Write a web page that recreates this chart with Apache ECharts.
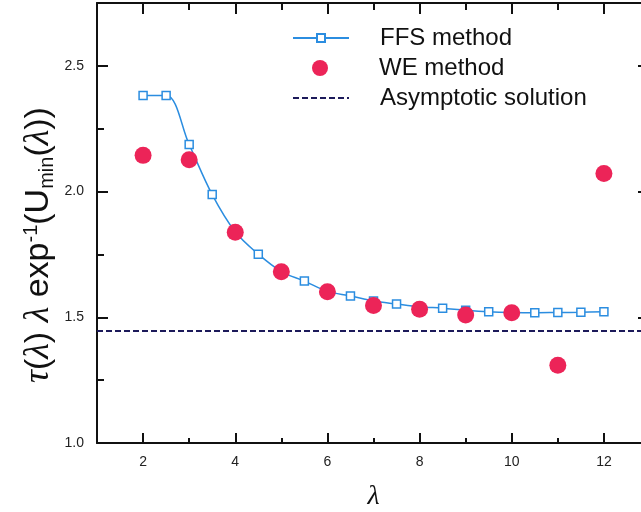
<!DOCTYPE html>
<html>
<head>
<meta charset="utf-8">
<script src="https://cdn.jsdelivr.net/npm/echarts@6/dist/echarts.min.js"></script>
<style>html,body{margin:0;padding:0;background:#fff}#c{width:641px;height:512px}</style>
</head>
<body>
<div id="c"></div>
<script>
// ---- data ----
var ffsX = [2, 2.5, 3, 3.5, 4, 4.5, 5, 5.5, 6, 6.5, 7, 7.5, 8, 8.5, 9, 9.5, 10, 10.5, 11, 11.5, 12];
var ffsY = [2.382, 2.382, 2.187, 1.988, 1.840, 1.751, 1.682, 1.644, 1.603, 1.585, 1.565, 1.553, 1.542, 1.536, 1.528, 1.522, 1.519, 1.518, 1.519, 1.520, 1.522];
var weX = [2, 3, 4, 5, 6, 7, 8, 9, 10, 11, 12];
var weY = [2.144, 2.127, 1.838, 1.681, 1.602, 1.547, 1.532, 1.509, 1.518, 1.309, 2.072];
var asymX = [1, 13];
var asymY = [1.445, 1.445];
var xMajor = [2, 4, 6, 8, 10, 12];
var xMinor = [3, 5, 7, 9, 11];
var yMajor = [1.0, 1.5, 2.0, 2.5];
var yMinor = [1.25, 1.75, 2.25];
var seriesNames = ['FFS method', 'WE method', 'Asymptotic solution'];
var yTitle = '{it|τ}{n|(}{it|λ}{n|) }{it|λ}{n| exp}{sup|-1}{n|(U}{sub|min}{n|(}{it|λ}{n|))}';
var xTitle = 'λ';

function pairs(xs, ys) { return xs.map(function (x, i) { return [x, ys[i]]; }); }

var XR = { min: 1, max: 13, interval: 1 };
var YR = { min: 1, max: 2.75, interval: 0.25 };
var lineStyle = { color: '#111', width: 2 };

function xAx(pos, vals, len, main) {
  return Object.assign({
    type: 'value', position: pos, gridIndex: 0,
    axisLine: { show: main, onZero: false, lineStyle: lineStyle },
    axisTick: { show: true, inside: true, length: len, customValues: vals, lineStyle: { color: '#111', width: 2 } },
    axisLabel: { show: false },
    splitLine: { show: false }
  }, XR);
}
function yAx(pos, vals, len, main) {
  return Object.assign({
    type: 'value', position: pos, gridIndex: 0,
    axisLine: { show: main, onZero: false, lineStyle: lineStyle },
    axisTick: { show: true, inside: true, length: len, customValues: vals, lineStyle: { color: '#111', width: 2 } },
    axisLabel: { show: false },
    splitLine: { show: false }
  }, YR);
}

var xMain = xAx('bottom', xMajor, 10, true);
xMain.axisLabel = { show: true, customValues: xMajor, fontSize: 14, color: '#222', margin: 12, fontFamily: 'Liberation Sans' };
xMain.name = xTitle;
xMain.nameLocation = 'middle';
xMain.nameGap = 40;
xMain.nameTextStyle = { fontFamily: 'Liberation Serif', fontStyle: 'italic', fontSize: 28, color: '#111' };

var yMain = yAx('left', yMajor, 11, true);
yMain.axisLabel = { show: true, customValues: yMajor, fontSize: 14, color: '#222', margin: 13, fontFamily: 'Liberation Sans',
  formatter: function (v) { return v.toFixed(1); } };

function legendAt(name, left, top, itemH) {
  return {
    orient: 'vertical', left: left, top: top, padding: 0,
    itemWidth: 56, itemHeight: itemH, itemGap: 0,
    data: [name],
    textStyle: { fontFamily: 'Liberation Sans', fontSize: 24, color: '#111', lineHeight: 26, padding: [0, 0, 0, 26] }
  };
}

var chart = echarts.init(document.getElementById('c'), null, { renderer: 'canvas' });
chart.setOption({
  backgroundColor: '#ffffff',
  animation: false,
  grid: { left: 97, top: 3, width: 553, height: 440, containLabel: false, outerBoundsMode: 'none' },
  legend: [legendAt(seriesNames[0], 292, 25, 10), legendAt(seriesNames[1], 312, 55, 16), legendAt(seriesNames[2], 292, 85, 10)],
  graphic: [{
    type: 'text', x: 39, y: 245, rotation: Math.PI / 2, silent: true,
    style: {
      text: yTitle, align: 'center', verticalAlign: 'middle', fill: '#111',
      rich: {
        n: { fontFamily: 'Liberation Sans', fontSize: 34, fill: '#111' },
        it: { fontFamily: 'Liberation Serif', fontStyle: 'italic', fontSize: 36, fill: '#111' },
        sup: { fontFamily: 'Liberation Sans', fontSize: 20, fill: '#111', verticalAlign: 'top' },
        sub: { fontFamily: 'Liberation Sans', fontSize: 20, fill: '#111', verticalAlign: 'bottom' }
      }
    }
  }],
  xAxis: [xMain, xAx('bottom', xMinor, 5, false), xAx('top', xMajor, 11, true), xAx('top', xMinor, 7, false)],
  yAxis: [yMain, yAx('left', yMinor, 7, false), yAx('right', yMajor, 12, true), yAx('right', yMinor, 7, false)],
  series: [
    {
      name: seriesNames[0], type: 'line', xAxisIndex: 0, yAxisIndex: 0,
      data: pairs(ffsX, ffsY), smooth: 0.35,
      symbol: 'rect', symbolSize: 8,
      lineStyle: { color: '#2b8de0', width: 1.5 },
      itemStyle: { color: '#ffffff', borderColor: '#2b8de0', borderWidth: 1.5 },
      z: 2
    },
    {
      name: seriesNames[1], type: 'scatter', xAxisIndex: 0, yAxisIndex: 0,
      data: pairs(weX, weY), symbol: 'circle', symbolSize: 17,
      itemStyle: { color: '#ec2458', opacity: 1 },
      z: 3
    },
    {
      name: seriesNames[2], type: 'line', xAxisIndex: 0, yAxisIndex: 0,
      data: pairs(asymX, asymY), symbol: 'none',
      lineStyle: { color: '#1c1a5a', width: 2, type: [6, 3] },
      itemStyle: { color: 'rgba(0,0,0,0)' },
      z: 1
    }
  ]
});
</script>
</body>
</html>
